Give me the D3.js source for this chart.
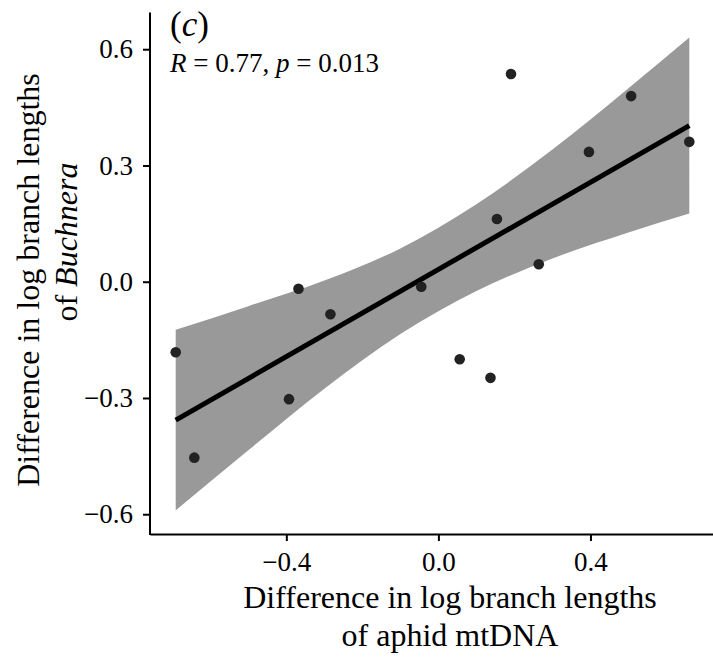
<!DOCTYPE html>
<html>
<head>
<meta charset="utf-8">
<script src="https://cdn.jsdelivr.net/npm/d3@7"></script>
<style>
  body { margin: 0; background: #fff; }
</style>
</head>
<body>
<div class="chart"></div>
<script>
// points
var diffMt = [-0.691, -0.642, -0.393, -0.368, -0.284, -0.045, 0.056, 0.137, 0.154, 0.191, 0.264, 0.396, 0.507, 0.660];
var diffBuchnera = [-0.182, -0.454, -0.303, -0.018, -0.084, -0.013, -0.200, -0.248, 0.162, 0.536, 0.045, 0.335, 0.479, 0.361];

// fitted line (ends) and confidence band
var fitX = [-0.691, 0.660];
var fitY = [-0.357, 0.403];
var bandX = [-0.691, -0.5, -0.3, -0.1, 0.1, 0.3, 0.5, 0.660];
var bandUpper = [-0.124, -0.063, 0.003, 0.086, 0.200, 0.341, 0.499, 0.630];
var bandLower = [-0.590, -0.435, -0.276, -0.135, -0.024, 0.060, 0.127, 0.176];

var xTicks = [-0.4, 0.0, 0.4];
var yTicks = [-0.6, -0.3, 0.0, 0.3, 0.6];

var width = 713, height = 657;
var serif = '"Liberation Serif", "Times New Roman", Times, serif';

var svg = d3.select(".chart")
  .append("svg")
    .attr("width", width)
    .attr("height", height)
    .attr("font-family", serif);

var x = d3.scaleLinear()
    .domain([-0.7586, 0.7276])
    .range([150, 715]);

var y = d3.scaleLinear()
    .domain([-0.651, 0.695])
    .range([534, 12.4]);

var fmt = d3.format(".1f");

// ribbon
var band = bandX.map(function(d, i) { return {x: d, lo: bandLower[i], hi: bandUpper[i]}; });
svg.append("path")
    .datum(band)
    .attr("fill", "#999999")
    .attr("d", d3.area()
      .curve(d3.curveMonotoneX)
      .x(function(d) { return x(d.x); })
      .y0(function(d) { return y(d.lo); })
      .y1(function(d) { return y(d.hi); }));

// regression line
svg.append("line")
    .attr("x1", x(fitX[0])).attr("y1", y(fitY[0]))
    .attr("x2", x(fitX[1])).attr("y2", y(fitY[1]))
    .attr("stroke", "#000")
    .attr("stroke-width", 5);

// points
svg.selectAll("circle")
    .data(diffMt)
    .enter()
    .append("circle")
      .attr("cx", function(d) { return x(d); })
      .attr("cy", function(d, i) { return y(diffBuchnera[i]); })
      .attr("r", 5.3)
      .attr("fill", "#222222");

// axes
var xAxis = svg.append("g")
    .attr("transform", "translate(0,534)")
    .call(d3.axisBottom(x).tickValues(xTicks).tickFormat(fmt).tickSize(7).tickSizeOuter(0).tickPadding(11));
var yAxis = svg.append("g")
    .attr("transform", "translate(150,0)")
    .call(d3.axisLeft(y).tickValues(yTicks).tickFormat(fmt).tickSize(7).tickSizeOuter(0).tickPadding(10));

[xAxis, yAxis].forEach(function(g) {
  g.attr("font-family", serif).attr("font-size", 27);
  g.select(".domain").attr("stroke-width", 2).attr("stroke", "#000");
  g.selectAll(".tick line").attr("stroke-width", 2).attr("stroke", "#000");
  g.selectAll(".tick text").attr("fill", "#000");
});
// close the corner where the two axis lines meet
yAxis.select(".domain").attr("d", "M0," + y.range()[1] + "V535");

// axis titles
var xTitle = svg.append("text")
    .attr("text-anchor", "middle")
    .attr("font-size", 32);
xTitle.append("tspan").attr("x", 450).attr("y", 608).text("Difference in log branch lengths");
xTitle.append("tspan").attr("x", 450).attr("y", 646).text("of aphid mtDNA");

var yTitle = svg.append("text")
    .attr("text-anchor", "middle")
    .attr("font-size", 32)
    .attr("transform", "rotate(-90)");
yTitle.append("tspan").attr("x", -280).attr("y", 39).text("Difference in log branch lengths");
var line2 = yTitle.append("tspan").attr("x", -242).attr("y", 77);
line2.append("tspan").text("of ");
line2.append("tspan").attr("font-style", "italic").text("Buchnera");

// panel tag and correlation label
svg.append("text")
    .attr("x", 170)
    .attr("y", 36)
    .attr("font-size", 35)
    .html('(<tspan font-style="italic">c</tspan>)');

var stat = svg.append("text")
    .attr("x", 170)
    .attr("y", 72)
    .attr("font-size", 27);
stat.append("tspan").attr("font-style", "italic").text("R");
stat.append("tspan").text(" = 0.77, ");
stat.append("tspan").attr("font-style", "italic").text("p");
stat.append("tspan").text(" = 0.013");
</script>
</body>
</html>
